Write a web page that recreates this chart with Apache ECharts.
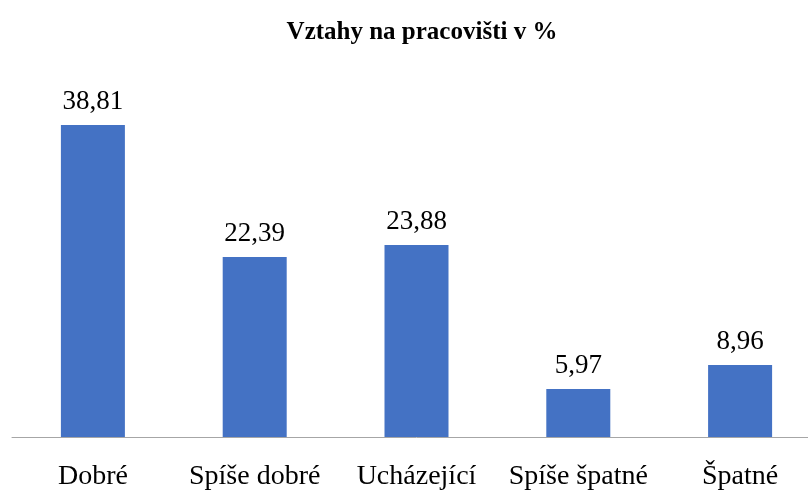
<!DOCTYPE html>
<html><head><meta charset="utf-8">
<script src="https://cdn.jsdelivr.net/npm/echarts@6/dist/echarts.min.js"></script>
<style>html,body{margin:0;padding:0;background:#fff;overflow:hidden}#c{width:830px;height:494px}</style>
</head><body><div id="c"></div>
<script>
const title = 'Vztahy na pracovišti v %';
const categories = ['Dobré', 'Spíše dobré', 'Ucházející', 'Spíše špatné', 'Špatné'];
const values = [38.81, 22.39, 23.88, 5.97, 8.96];

const chart = echarts.init(document.getElementById('c'));
chart.setOption({
  animation: false,
  backgroundColor: '#fff',
  title: {
    text: title, left: 417, top: 15, textAlign: 'center',
    textStyle: {fontFamily: 'Liberation Serif', fontWeight: 'bold', fontSize: 25, color: '#000'}
  },
  grid: {left: 12, right: 9, top: 115.5, bottom: 57},
  xAxis: {
    type: 'category', data: categories,
    axisLine: {lineStyle: {color: '#a6a6a6', width: 1}},
    axisTick: {show: false},
    axisLabel: {fontFamily: 'Liberation Serif', fontSize: 28, color: '#000', margin: 26, interval: 0}
  },
  yAxis: {type: 'value', min: 0, max: 40, show: false, splitLine: {show: false}},
  series: [{
    type: 'bar', data: values, barWidth: 64,
    itemStyle: {color: '#4472C4'},
    label: {
      show: true, position: 'top', distance: 10,
      fontFamily: 'Liberation Serif', fontSize: 27, color: '#000',
      formatter: p => p.value.toFixed(2).replace('.', ',')
    }
  }]
});
</script></body></html>
